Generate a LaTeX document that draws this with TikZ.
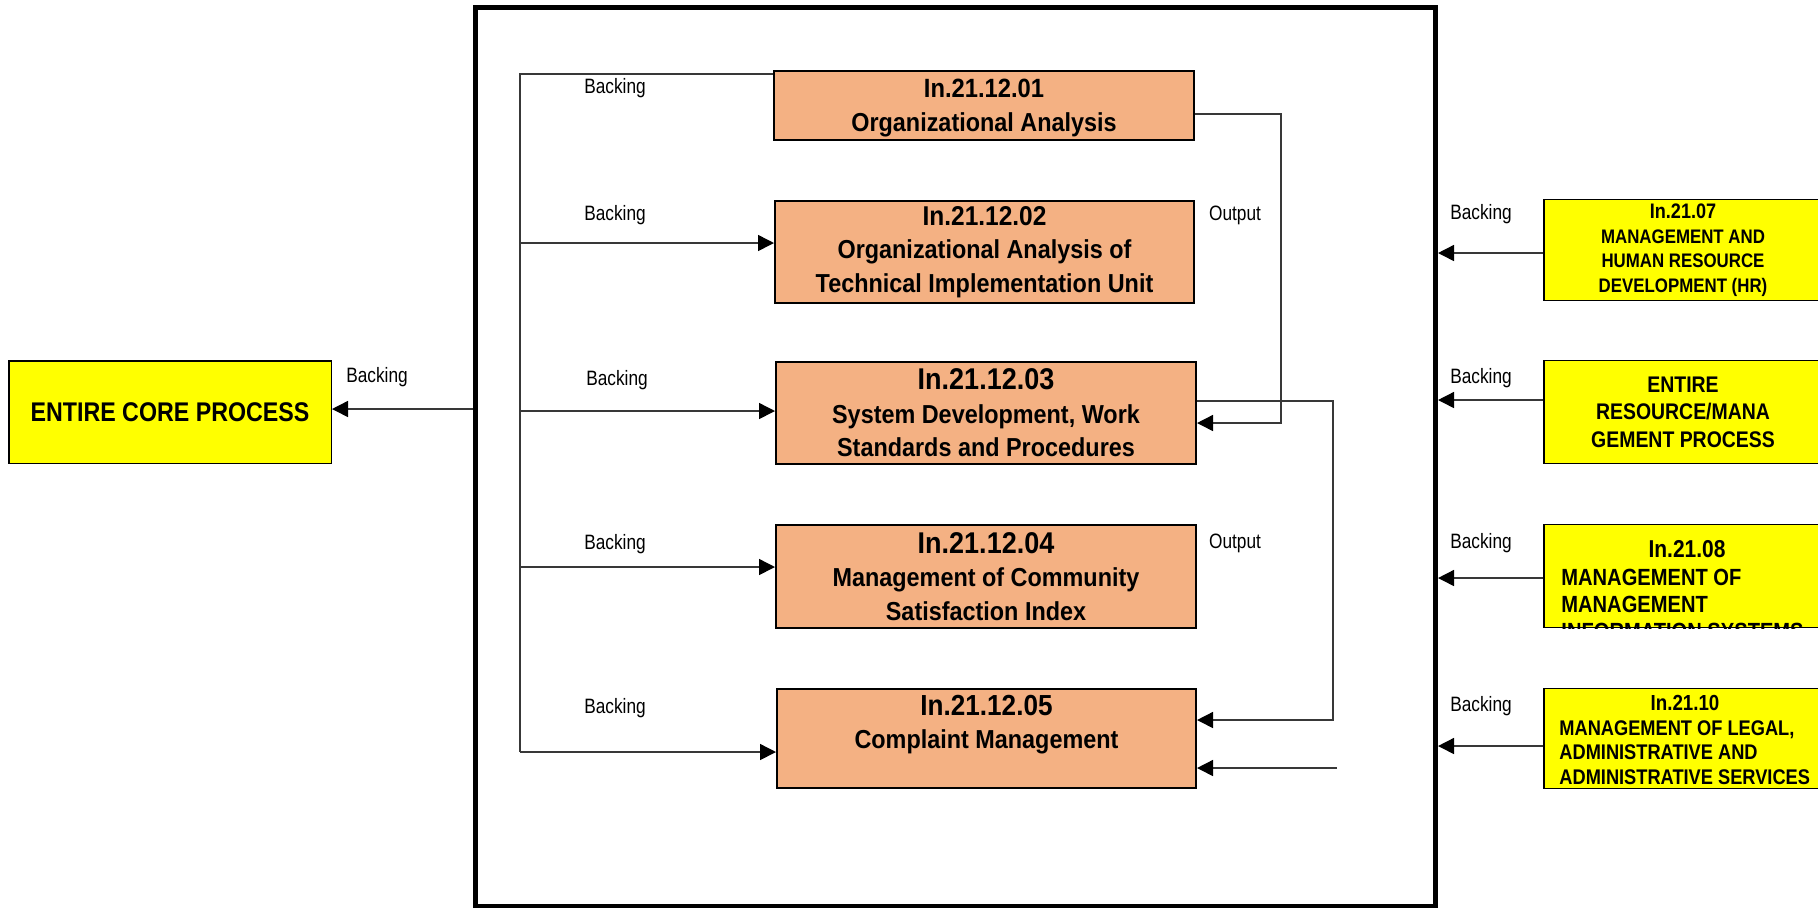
\documentclass[tikz,border=0pt]{standalone}
\usepackage{fontspec}
\usetikzlibrary{arrows.meta}
\newfontfamily\orf[FakeStretch=0.9]{Liberation Sans}
\newfontfamily\yef[FakeStretch=0.86]{Liberation Sans}
\newfontfamily\lbf[FakeStretch=0.83]{Liberation Sans}
\definecolor{boxorange}{HTML}{F4B183}
\definecolor{boxyellow}{HTML}{FFFF00}
\tikzset{
  frm/.style={draw=black, line width=2.5pt, minimum width=480pt, minimum height=449.25pt, inner sep=0pt},
  obox/.style={draw=black, line width=1pt, fill=boxorange, inner sep=0pt, align=center,
    font=\orf\bfseries\fontsize{13}{16.75}\selectfont},
  ybox/.style={draw=black, line width=0.6pt, fill=boxyellow, inner sep=0pt, align=center},
  ytxt/.style={inner sep=0pt, font=\yef\bfseries},
  lbl/.style={font=\lbf\fontsize{10.4}{12}\selectfont, inner sep=0pt, anchor=base},
  conn/.style={draw=black!78, line width=0.75pt},
  arr/.style={conn, -{Triangle[length=8pt,width=8pt,black]}},
}
\begin{document}
\begin{tikzpicture}[x=0.5pt, y=-0.5pt]
\path[use as bounding box, clip] (0,0) rectangle (1818,907);

% outer process frame
\node[frm] (frame) at (955.5,456.75) {};

% sub-processes
\node[obox, minimum width=210pt, minimum height=34.5pt, text depth=0pt] (b1) at (984,105.5)
  {{\fontsize{13.2}{16.75}\selectfont In.21.12.01}\\Organizational Analysis};
\node[obox, minimum width=209.5pt, minimum height=51pt] (b2) at (984.5,252)
  {{\fontsize{13.6}{16.75}\selectfont In.21.12.02}\\Organizational Analysis of\\Technical Implementation Unit};
\node[obox, minimum width=210pt, minimum height=51pt] (b3) at (986,413)
  {{\fontsize{15}{16.75}\selectfont In.21.12.03}\\System Development, Work\\Standards and Procedures};
\node[obox, minimum width=210pt, minimum height=51.5pt] (b4) at (986,576.5)
  {{\fontsize{15}{16.75}\selectfont In.21.12.04}\\Management of Community\\Satisfaction Index};
\node[obox, minimum width=209.5pt, minimum height=49.5pt] (b5) at (986.5,738.5)
  {{\fontsize{14.5}{16.75}\selectfont In.21.12.05}\\Complaint Management\\\mbox{}};

% core process on the left
\node[ybox, minimum width=161.25pt, minimum height=51.25pt, line width=0.75pt,
  font=\yef\bfseries\fontsize{13.5}{16}\selectfont] (ecp) at (170,412) {ENTIRE CORE PROCESS};

% supporting processes on the right
\node[ybox, minimum width=139pt, minimum height=50.5pt,
  font=\yef\bfseries\fontsize{9.8}{12.25}\selectfont] (yhr) at (1683,250)
  {{\fontsize{10.5}{12.25}\selectfont In.21.07}\\MANAGEMENT AND\\HUMAN RESOURCE\\DEVELOPMENT (HR)};
\node[ybox, minimum width=139pt, minimum height=51.5pt,
  font=\yef\bfseries\fontsize{11.3}{13.75}\selectfont] (yres) at (1683,412)
  {ENTIRE\\RESOURCE/MANA\\GEMENT PROCESS};
\node[ybox, minimum width=139pt, minimum height=51.5pt] (ymis) at (1683,576) {};
\begin{scope}
  \clip (ymis.south west) rectangle (ymis.north east);
  \node[ytxt, anchor=base, font=\yef\bfseries\fontsize{12.2}{14}\selectfont] (ymisT) at (1687,557) {In.21.08};
  \node[ytxt, anchor=base west, font=\yef\bfseries\fontsize{11.7}{14}\selectfont] (ymisA) at (1561,585) {MANAGEMENT OF};
  \node[ytxt, anchor=base west, font=\yef\bfseries\fontsize{11.7}{14}\selectfont] (ymisB) at (1561,612) {MANAGEMENT};
  \node[ytxt, anchor=base west, font=\yef\bfseries\fontsize{11.7}{14}\selectfont] (ymisC) at (1561,639) {INFORMATION SYSTEMS};
\end{scope}
\node[ybox, minimum width=139pt, minimum height=50pt] (ylaw) at (1683,738.5) {};
\node[ytxt, anchor=base, font=\yef\bfseries\fontsize{10.9}{12}\selectfont] (ylawT) at (1685,710) {In.21.10};
\node[ytxt, anchor=base west, font=\yef\bfseries\fontsize{10.6}{12}\selectfont] (ylawA) at (1559,735) {MANAGEMENT OF LEGAL,};
\node[ytxt, anchor=base west, font=\yef\bfseries\fontsize{10.6}{12}\selectfont] (ylawB) at (1559,759) {ADMINISTRATIVE AND};
\node[ytxt, anchor=base west, font=\yef\bfseries\fontsize{10.6}{12}\selectfont] (ylawC) at (1559,784) {ADMINISTRATIVE SERVICES};

% left backing bus
\coordinate (bustop) at (520,74);
\coordinate (bus2) at (520,243);
\coordinate (bus3) at (520,411);
\coordinate (bus4) at (520,567);
\coordinate (busbot) at (520,752);
\draw[conn] (b1.west |- bustop) -- (bustop) -- (busbot);
\draw[arr] (bus2) -- (bus2 -| b2.west);
\draw[arr] (bus3) -- (bus3 -| b3.west);
\draw[arr] (bus4) -- (bus4 -| b4.west);
\draw[arr] (busbot) -- (busbot -| b5.west);

% outputs fed back
\coordinate (o1) at (1281,114);
\coordinate (o1b) at (1281,423);
\draw[arr] (b1.east |- o1) -- (o1) -- (o1b) -- (o1b -| b3.east);
\coordinate (o2) at (1333,401);
\coordinate (o2b) at (1333,720);
\draw[arr] (b3.east |- o2) -- (o2) -- (o2b) -- (o2b -| b5.east);
\coordinate (fin) at (1337,768);
\draw[arr] (fin) -- (fin -| b5.east);

% backing to the core process
\coordinate (lb) at (0,409);
\draw[arr] (frame.west |- lb) -- (ecp.east |- lb);

% backing from supporting processes
\coordinate (r1) at (0,253);
\coordinate (r2) at (0,400);
\coordinate (r3) at (0,578);
\coordinate (r4) at (0,746);
\draw[arr] (yhr.west |- r1) -- (frame.east |- r1);
\draw[arr] (yres.west |- r2) -- (frame.east |- r2);
\draw[arr] (ymis.west |- r3) -- (frame.east |- r3);
\draw[arr] (ylaw.west |- r4) -- (frame.east |- r4);

% labels
\node[lbl] (lab1) at (615,93) {Backing};
\node[lbl] (lab2) at (615,220) {Backing};
\node[lbl] (lab3) at (617,385) {Backing};
\node[lbl] (lab4) at (615,549) {Backing};
\node[lbl] (lab5) at (615,713) {Backing};
\node[lbl] (labL) at (377,382) {Backing};
\node[lbl] (labR1) at (1481,219) {Backing};
\node[lbl] (labR2) at (1481,383) {Backing};
\node[lbl] (labR3) at (1481,548) {Backing};
\node[lbl] (labR4) at (1481,711) {Backing};
\node[lbl] (out1) at (1235,220) {Output};
\node[lbl] (out2) at (1235,548) {Output};
\end{tikzpicture}
\end{document}
